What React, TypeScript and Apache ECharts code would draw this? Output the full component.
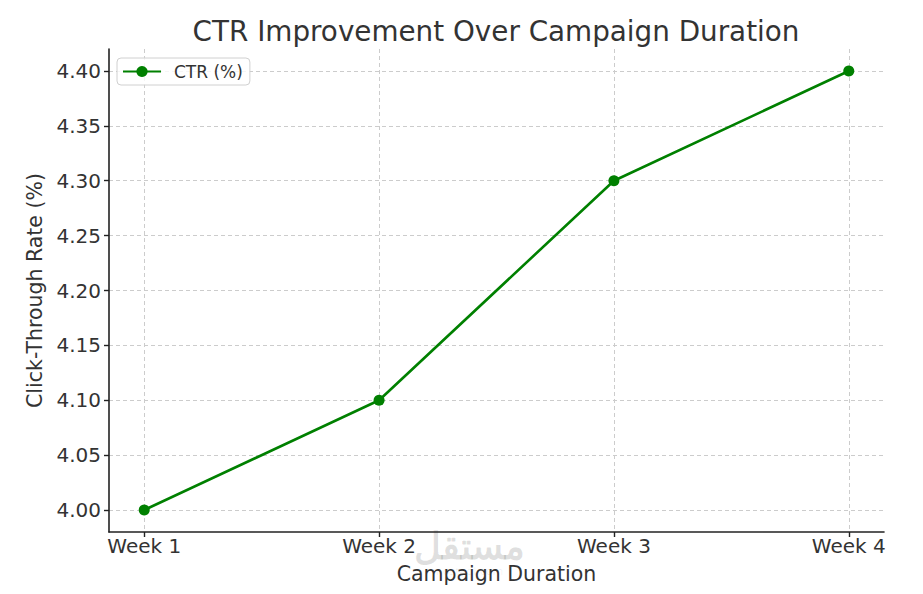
import React, { useEffect, useRef } from "react";
import * as echarts from "echarts";

const weeks = ["Week 1", "Week 2", "Week 3", "Week 4"];
const ctrValues = [4.0, 4.1, 4.3, 4.4];
const yTicks = [4.0, 4.05, 4.1, 4.15, 4.2, 4.25, 4.3, 4.35, 4.4];
const xTicks = [0, 1, 2, 3];

const FONT = "DejaVu Sans";
const TEXT = "#333333";
const GREEN = "#008000";

export default function App() {
  const ref = useRef<HTMLDivElement>(null);
  useEffect(() => {
    const chart = echarts.init(ref.current!, null, { renderer: "svg" });
    const data = ctrValues.map((v, i) => [i, v]);
    chart.setOption({
      animation: false,
      backgroundColor: "#ffffff",
      textStyle: { fontFamily: FONT },
      title: {
        text: "CTR Improvement Over Campaign Duration",
        left: 496,
        textAlign: "center",
        top: 17,
        padding: 0,
        textStyle: { fontFamily: FONT, fontSize: 27.8, fontWeight: "normal", color: TEXT },
      },
      legend: {
        left: 117,
        top: 58,
        orient: "vertical",
        padding: [5, 7, 5, 5],
        itemWidth: 38,
        itemHeight: 14,
        backgroundColor: "rgba(255,255,255,0.8)",
        borderColor: "#d0d0d0",
        borderWidth: 1,
        borderRadius: 4,
        textStyle: { fontFamily: FONT, fontSize: 17, color: TEXT, padding: [0, 0, 0, 8] },
        data: ["CTR (%)"],
      },
      grid: { left: 109, right: 39, top: 49, bottom: 62, containLabel: false },
      xAxis: {
        type: "value",
        min: -0.15,
        max: 3.15,
        name: "Campaign Duration",
        nameLocation: "middle",
        nameGap: 31,
        nameTextStyle: { fontFamily: FONT, fontSize: 20.5, color: TEXT },
        axisLine: { show: true, onZero: false, lineStyle: { color: "#222", width: 1.6 } },
        axisTick: { show: true, length: 5, customValues: xTicks, lineStyle: { color: "#222", width: 1.4 } },
        axisLabel: {
          customValues: xTicks,
          margin: 4,
          fontFamily: FONT,
          fontSize: 20,
          color: TEXT,
          formatter: (v: number) => weeks[Math.round(v)] ?? "",
        },
        splitLine: { show: true, lineStyle: { color: "#cccccc", width: 1, type: [4, 3] } },
      },
      yAxis: {
        type: "value",
        min: 3.98,
        max: 4.42,
        name: "Click-Through Rate (%)",
        nameLocation: "middle",
        nameGap: 59,
        nameTextStyle: { fontFamily: FONT, fontSize: 20.5, color: TEXT },
        axisLine: { show: true, onZero: false, lineStyle: { color: "#222", width: 1.6 } },
        axisTick: { show: true, length: 5, customValues: yTicks, lineStyle: { color: "#222", width: 1.4 } },
        axisLabel: {
          customValues: yTicks,
          margin: 8,
          fontFamily: FONT,
          fontSize: 20,
          color: TEXT,
          formatter: (v: number) => v.toFixed(2),
        },
        splitLine: { show: true, lineStyle: { color: "#cccccc", width: 1, type: [4, 3] } },
      },
      graphic: [
        {
          type: "text",
          left: 414,
          top: 526,
          z: -1,
          silent: true,
          style: {
            text: "مستقل",
            fontFamily: "Noto Sans",
            fontSize: 37,
            fontWeight: "bold",
            fill: "rgba(0,0,0,0.12)",
          },
        },
        {
          type: "text",
          left: 432,
          top: 566,
          z: -1,
          silent: true,
          style: {
            text: "mostaql.com",
            fontFamily: FONT,
            fontSize: 11,
            fill: "rgba(0,0,0,0.07)",
          },
        },
      ],
      series: [
        {
          name: "CTR (%)",
          type: "line",
          data,
          symbol: "circle",
          symbolSize: 11,
          lineStyle: { color: GREEN, width: 2.6 },
          itemStyle: { color: GREEN },
          z: 3,
        },
      ],
    });
    return () => chart.dispose();
  }, []);
  return <div ref={ref} style={{ position: "fixed", left: 0, top: 0, width: 923, height: 594 }} />;
}
